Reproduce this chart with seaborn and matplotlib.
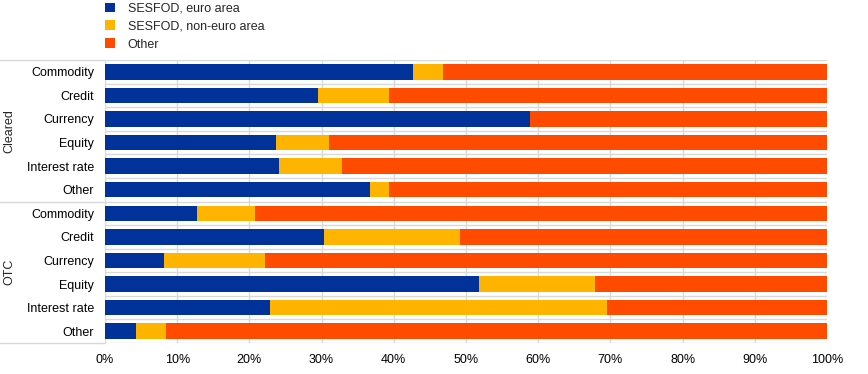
import matplotlib
matplotlib.use("Agg")
import matplotlib.pyplot as plt
import seaborn as sns
import pandas as pd
import numpy as np
from matplotlib.patches import Patch

sns.set_theme(style="white")
plt.rcParams['font.family'] = ['Liberation Sans', 'DejaVu Sans']

groups = ["Cleared"] * 6 + ["OTC"] * 6
categories = ["Commodity", "Credit", "Currency", "Equity", "Interest rate", "Other"] * 2
euro_area = [42.7, 29.5, 58.8, 23.7, 24.1, 36.7, 12.8, 30.3, 8.2, 51.8, 22.9, 4.3]
non_euro_area = [4.1, 9.9, 0.0, 7.3, 8.7, 2.6, 8.0, 18.8, 14.0, 16.1, 46.6, 4.1]
other = [100 - a - b for a, b in zip(euro_area, non_euro_area)]
series_names = ["SESFOD, euro area", "SESFOD, non-euro area", "Other"]
colors = ["#003299", "#FFB400", "#FF4B00"]

df = pd.DataFrame({"group": groups, "category": categories,
                   "euro": euro_area, "noneuro": non_euro_area, "other": other})
df["key"] = df["group"] + "|" + df["category"]
df["c1"] = df["euro"]
df["c2"] = df["euro"] + df["noneuro"]
df["c3"] = df["euro"] + df["noneuro"] + df["other"]

W, H = 868, 374
fig = plt.figure(figsize=(W / 100, H / 100), dpi=100)
ax = fig.add_axes([105 / W, 1 - 343 / H, (827 - 105) / W, (343 - 60) / H])

order = list(df["key"])
for col, c in zip(["c3", "c2", "c1"], colors[::-1]):
    sns.barplot(data=df, x=col, y="key", order=order, orient="h", color=c,
                width=0.66, ax=ax, saturation=1, edgecolor="none", zorder=3)

ax.set_xlim(0, 100)
ax.set_ylim(len(order) - 0.5, -0.5)
ax.set_xticks(np.arange(0, 101, 10))
ax.set_xticklabels([f"{v}%" for v in range(0, 101, 10)], fontsize=9, color="#000000")
ax.set_yticks(range(len(order)))
ax.set_yticklabels(categories, fontsize=9, color="#000000")
ax.set_xlabel("")
ax.set_ylabel("")
ax.tick_params(axis="both", length=0, pad=8)
ax.tick_params(axis="x", pad=8)
for s in ax.spines.values():
    s.set_visible(False)

grid_c = "#d9d9d9"
for v in range(0, 101, 10):
    ax.axvline(v, color=grid_c, lw=1, zorder=1)
for i in range(len(order) + 1):
    ax.axhline(i - 0.5, color=grid_c, lw=1, zorder=1)

# group separators extending to the left edge
for yv in [-0.5, 5.5, 11.5]:
    ax.plot([-105 / 7.22, 0], [yv, yv], color=grid_c, lw=1, clip_on=False, zorder=1)

ax.text(-96 / 7.22, 2.5, "Cleared", rotation=90, ha="center", va="center", fontsize=9)
ax.text(-96 / 7.22, 8.5, "OTC", rotation=90, ha="center", va="center", fontsize=9)

handles = [Patch(facecolor=c, edgecolor="none") for c in colors]
fig.legend(handles, series_names, loc="upper left",
           bbox_to_anchor=(102 / W, 1.0), frameon=False, fontsize=9,
           handlelength=0.85, handleheight=0.85, handletextpad=1.0,
           labelspacing=0.45, borderaxespad=0.0, borderpad=0.2)

fig.savefig("out.png", dpi=100)
